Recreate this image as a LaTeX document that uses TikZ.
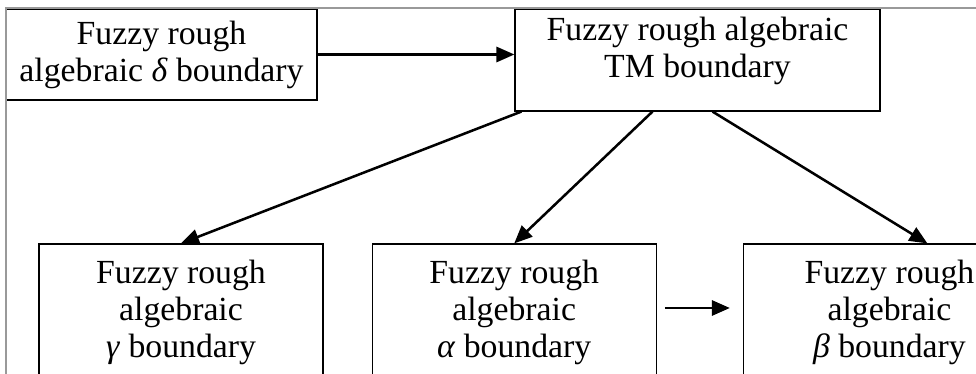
\documentclass[tikz,border=0pt]{standalone}
\usepackage{fontspec}
\setmainfont{Liberation Serif}
\usepackage{tikz}
\usetikzlibrary{arrows.meta,calc,positioning}

\begin{document}
\begin{tikzpicture}[
  x=0.025cm,y=0.025cm,
  block/.style={rectangle,draw,line width=0.8pt,align=center,
    inner sep=0pt,font=\fontsize{24}{26.3}\selectfont},
  edge/.style={-{Triangle[length=0.45cm,width=0.38cm]},line width=1.8pt},
  frame/.style={draw=gray!80,line width=1pt}
]
  \useasboundingbox (0,0) rectangle (976,374);
  \clip (0,0) rectangle (976,374);
  % top row
  \node[block,minimum width=7.775cm,minimum height=2.275cm] (delta) at (161.5,319.5)
    {Fuzzy rough\\algebraic \textit{δ} boundary};
  \node[block,minimum width=9.125cm,minimum height=2.55cm] (tm) at (697.5,314)
    {Fuzzy rough algebraic\\TM boundary\\[-8pt]};
  % bottom row
  \node[block,minimum width=7.1cm,minimum height=3.4cm] (gamma) at (181,62)
    {Fuzzy rough\\algebraic\\\textit{γ} boundary};
  \node[block,minimum width=7.1cm,minimum height=3.4cm,right=1.2cm of gamma] (alpha)
    {Fuzzy rough\\algebraic\\\textit{α} boundary};
  \node[block,minimum width=7.3cm,minimum height=3.4cm,right=2.15cm of alpha] (beta)
    {Fuzzy rough\\algebraic\\\textit{β} boundary};
  % outer frame
  \draw[frame] (6,0) -- (6,366) -- (976,366);
  \draw[edge] (delta.east) -- (delta.east -| tm.west);
  \draw[edge] ($(tm.south west)+(7,0)$) -- (gamma.north);
  \draw[edge] ($(tm.south)+(-45,0)$) -- (alpha.north);
  \draw[edge] ($(tm.south)+(15,0)$) -- ($(beta.north)+(38,0)$);
  \draw[edge] ($(alpha.east)+(8,4)$) -- ($(beta.west)+(-13,4)$);
\end{tikzpicture}
\end{document}
